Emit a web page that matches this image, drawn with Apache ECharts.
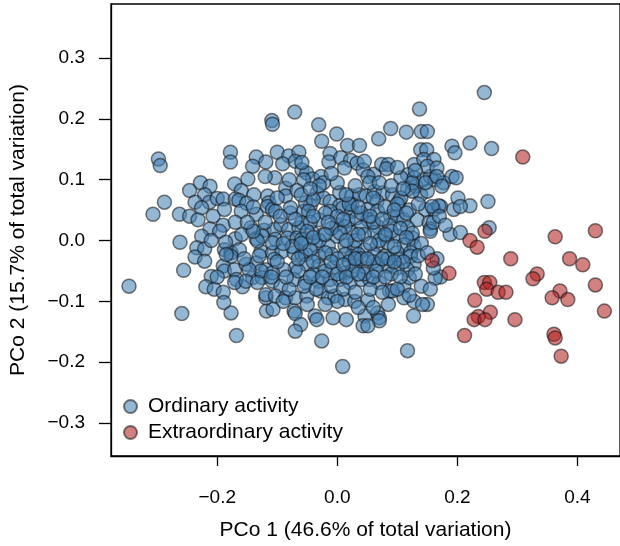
<!DOCTYPE html>
<html>
<head>
<meta charset="utf-8">
<script src="https://cdn.jsdelivr.net/npm/echarts@6/dist/echarts.min.js"></script>
<style>
html,body{margin:0;padding:0;background:#fff;}
#chart{width:620px;height:546px;}
</style>
</head>
<body>
<div id="chart"></div>
<script>
const seriesNames = ["Ordinary activity", "Extraordinary activity"];
const xTicks = [-0.2, 0.0, 0.2, 0.4];
const yTicks = [-0.3, -0.2, -0.1, 0.0, 0.1, 0.2, 0.3];
const xTitle = "PCo 1 (46.6% of total variation)";
const yTitle = "PCo 2 (15.7% of total variation)";

const ordinaryPoints = [
[-0.298,0.134],[-0.295,0.123],[-0.178,0.145],[-0.178,0.129],[-0.135,0.137],[-0.141,0.122],[-0.119,0.129],[-0.100,0.145],[-0.081,0.139],[-0.064,0.145],
[-0.091,0.126],[-0.070,0.130],[-0.104,0.103],[-0.059,0.116],[-0.149,0.101],[-0.171,0.093],[-0.228,0.095],[-0.212,0.089],[-0.246,0.082],[-0.160,0.082],
[-0.139,0.075],[-0.288,0.063],[-0.221,0.075],[-0.237,0.063],[-0.213,0.063],[-0.200,0.069],[-0.190,0.068],[-0.170,0.068],[-0.164,0.066],[-0.151,0.061],
[-0.116,0.073],[-0.114,0.062],[-0.086,0.086],[-0.086,0.073],[-0.067,0.082],[-0.307,0.043],[-0.263,0.043],[-0.246,0.040],[-0.232,0.034],[-0.207,0.040],
[-0.188,0.051],[-0.160,0.048],[-0.135,0.043],[-0.116,0.056],[-0.108,0.051],[-0.103,0.048],[-0.078,0.045],[-0.056,0.048],[-0.226,0.054],[-0.190,0.025],
[-0.212,0.019],[-0.196,0.015],[-0.144,0.021],[-0.122,0.017],[-0.105,0.018],[-0.094,0.026],[-0.081,0.018],[-0.064,0.021],[-0.262,-0.003],[-0.226,0.007],
[-0.234,-0.012],[-0.221,-0.014],[-0.170,0.003],[-0.159,0.010],[-0.135,0.003],[-0.125,0.007],[-0.103,0.002],[-0.083,0.004],[-0.067,0.004],[-0.053,0.002],
[-0.188,-0.015],[-0.177,-0.020],[-0.163,-0.015],[-0.127,-0.018],[-0.108,-0.020],[-0.092,-0.018],[-0.072,-0.020],[-0.059,-0.023],[-0.109,0.197],[-0.108,0.191],
[-0.237,-0.027],[-0.221,-0.034],[-0.190,-0.042],[-0.188,-0.050],[-0.171,-0.048],[-0.152,-0.039],[-0.135,-0.037],[-0.119,-0.048],[-0.105,-0.031],[-0.256,-0.049],
[-0.210,-0.059],[-0.168,-0.064],[-0.158,-0.076],[-0.141,-0.061],[-0.125,-0.061],[-0.108,-0.067],[-0.347,-0.075],[-0.219,-0.076],[-0.205,-0.080],[-0.190,-0.085],
[-0.189,-0.102],[-0.259,-0.120],[-0.177,-0.119],[-0.118,-0.116],[-0.107,-0.113],[-0.119,-0.094],[-0.168,-0.156],[-0.186,-0.003],[-0.177,-0.026],[-0.133,-0.001],[-0.108,-0.004],
[-0.185,-0.023],[-0.070,-0.045],[-0.089,-0.048],[-0.108,-0.053],[-0.127,-0.050],[-0.147,-0.048],[-0.171,-0.069],[-0.152,-0.067],[-0.133,-0.069],[-0.094,-0.075],
[-0.072,-0.064],[-0.119,-0.089],[-0.103,-0.091],[-0.086,-0.094],[-0.070,-0.094],[-0.072,-0.116],[-0.070,-0.120],[-0.061,-0.138],[-0.070,-0.149],
[-0.071,0.211],[-0.031,0.190],[-0.001,0.175],[-0.026,0.163],[0.017,0.156],[0.037,0.156],[0.069,0.167],[0.089,0.184],[0.115,0.178],[0.137,0.216],
[0.140,0.179],[-0.012,0.143],[-0.014,0.129],[0.006,0.136],[0.022,0.132],[0.033,0.127],[0.012,0.119],[0.043,0.116],[0.061,0.109],[0.074,0.125],
[0.085,0.125],[0.082,0.118],[0.051,0.105],[-0.051,0.111],[-0.041,0.101],[-0.027,0.105],[-0.023,0.095],[-0.056,0.100],[-0.034,0.078],[-0.023,0.070],
[-0.012,0.064],[0.004,0.079],[0.024,0.073],[0.037,0.075],[0.048,0.073],[0.062,0.081],[0.076,0.078],[0.092,0.075],[0.103,0.064],[0.117,0.084],
[0.131,0.089],[0.139,0.075],[0.150,0.081],[0.128,0.125],[0.139,0.149],[0.149,0.149],[0.144,0.133],[0.161,0.133],[0.117,0.108],[0.128,0.103],
[0.106,0.103],[0.143,0.100],[0.155,0.105],[0.163,0.100],[-0.045,0.057],[0.004,0.057],[0.024,0.059],[-0.078,0.054],
[0.150,0.122],[0.166,0.119],[0.191,0.155],[0.196,0.144],[-0.059,0.128],[0.054,0.095],[0.070,0.095],[0.066,0.064],[0.125,0.095],[0.147,0.095],
[0.177,0.095],[0.191,0.105],[0.106,0.070],[0.125,0.081],[0.147,0.051],[0.161,0.051],[0.172,0.056],[0.194,0.051],[-0.053,0.062],[-0.040,0.067],
[0.010,0.054],[0.024,0.048],[-0.012,0.048],[-0.048,0.048],[-0.031,0.034],[-0.059,0.029],[-0.001,0.026],[0.018,0.032],[0.032,0.037],[0.051,0.051],
[0.051,0.034],[0.067,0.048],[0.089,0.040],[0.100,0.040],[0.111,0.034],[0.133,0.034],[0.153,0.029],[0.155,0.019],[0.188,0.010],[0.067,0.023],
[0.087,0.025],[0.117,0.021],[0.125,0.004],[0.100,0.007],[0.079,0.007],[0.062,0.013],[0.040,0.021],[0.024,0.013],[0.013,0.023],[-0.001,0.007],
[-0.023,0.010],[-0.042,0.013],[-0.059,0.002],[-0.034,-0.009],[-0.015,-0.009],[0.013,-0.009],[0.029,-0.012],[0.046,-0.015],[0.067,-0.007],[0.084,-0.004],
[0.111,-0.007],[0.128,-0.009],[-0.053,-0.023],[0.024,-0.026],[0.062,-0.023],[0.100,-0.020],[0.122,-0.020],
[0.245,0.243],[0.221,0.160],[0.257,0.151],[0.150,0.179],[0.166,0.105],[0.174,0.089],[0.198,0.103],[0.201,0.070],[0.251,0.064],[0.221,0.057],
[0.205,0.056],[0.169,0.057],[0.158,0.056],[0.155,0.015],[0.205,0.013],[0.253,0.021],[0.166,-0.030],[0.172,-0.060],[0.163,-0.062],[0.150,-0.105],
[-0.031,-0.026],[-0.009,-0.023],[0.013,-0.023],[0.035,-0.023],[0.079,-0.026],[0.103,-0.031],[0.122,-0.026],[0.128,-0.039],[0.117,-0.048],[0.100,-0.045],
[0.084,-0.042],[0.067,-0.039],[0.048,-0.045],[0.029,-0.042],[0.013,-0.053],[-0.007,-0.045],[-0.031,-0.042],[-0.051,-0.039],[-0.053,-0.069],[-0.031,-0.067],
[-0.012,-0.064],[0.004,-0.064],[0.021,-0.069],[0.040,-0.064],[0.054,-0.064],[0.070,-0.069],[0.087,-0.083],[0.092,-0.083],[0.111,-0.075],[0.120,-0.061],
[-0.051,-0.091],[-0.028,-0.083],[-0.015,-0.094],[-0.004,-0.091],[0.013,-0.097],[0.029,-0.100],[0.051,-0.098],[0.111,-0.094],[0.128,-0.100],[0.142,-0.105],
[-0.037,-0.124],[-0.034,-0.130],[-0.007,-0.127],[0.015,-0.130],[0.046,-0.124],[0.067,-0.119],[0.070,-0.127],[0.070,-0.132],[0.043,-0.140],[0.051,-0.140],
[-0.026,-0.165],[0.127,-0.124],[0.117,-0.181],[0.009,-0.207],
[-0.045,0.030],[-0.020,0.045],[0.000,0.040],[0.020,0.060],[0.040,0.045],[0.060,0.030],[0.080,0.055],[0.100,0.060],[0.120,0.050],[0.135,0.060],
[-0.070,0.035],[-0.050,0.015],[-0.030,0.000],[-0.010,0.020],[0.005,0.012],[0.030,0.000],[0.045,0.010],[0.070,0.000],[0.090,0.015],[0.105,0.020],[0.125,0.012],[0.140,-0.005],
[-0.075,-0.010],[-0.045,-0.015],[-0.020,-0.020],[0.000,-0.030],[0.020,-0.035],[0.040,-0.030],[0.060,-0.035],[0.085,-0.030],[0.110,-0.035],[0.135,-0.025],
[-0.065,-0.050],[-0.040,-0.055],[-0.020,-0.050],[0.000,-0.055],[0.025,-0.050],[0.045,-0.055],[0.065,-0.050],[0.090,-0.055],[0.105,-0.060],[0.130,-0.055],
[-0.080,-0.080],[-0.055,-0.075],[-0.035,-0.080],[-0.010,-0.075],[0.010,-0.080],[0.030,-0.085],[0.055,-0.080],[0.075,-0.085],[0.100,-0.080],
[-0.100,-0.035],[-0.090,-0.005],[-0.120,0.030],[-0.140,0.015],[-0.155,-0.030],[-0.130,-0.025],[-0.110,-0.060],[-0.090,-0.100],[-0.200,-0.060],[-0.210,0.000],
[-0.170,0.030],[-0.140,0.055],[-0.100,0.070],[-0.060,0.075],[-0.030,0.090],[0.000,0.095],[0.030,0.090],[0.060,0.070],[0.090,0.090],[0.110,0.085],
[0.015,0.075],[-0.045,0.085],[-0.080,0.100],[-0.120,0.105],[0.130,0.115],[0.045,0.130],[0.100,0.120],[-0.010,0.110],
[0.000,-0.100],[0.035,-0.110],[-0.020,-0.105],[0.085,-0.105],[0.060,-0.110],[-0.050,-0.105],
[0.160,0.030],[0.170,0.040],[0.180,0.025],[0.150,-0.020],[0.160,-0.045],[0.140,-0.075],[0.155,-0.080],[0.120,-0.090],
[-0.040,0.040],[-0.015,0.030],[0.010,0.035],[0.035,0.055],[0.055,0.040],[0.075,0.035],[0.095,0.050],[0.115,0.045],
[-0.060,-0.005],[-0.040,0.005],[-0.020,0.010],[0.015,0.000],[0.035,0.010],[0.055,-0.005],[0.080,0.010],[0.095,-0.010],[0.115,0.005],
[-0.065,-0.030],[-0.040,-0.035],[-0.010,-0.035],[0.010,-0.040],[0.030,-0.030],[0.050,-0.030],[0.075,-0.030],[0.095,-0.035],
[-0.045,-0.060],[-0.025,-0.060],[0.015,-0.060],[0.035,-0.055],[0.060,-0.060],[0.080,-0.060],[-0.150,0.030],[-0.095,0.040],[-0.085,-0.060]
];

const extraordinaryPoints = [
[0.309,0.137],[0.246,0.015],[0.430,0.016],[0.363,0.006],[0.221,0.000],[0.233,-0.011],[0.289,-0.030],[0.387,-0.030],[0.409,-0.040],[0.158,-0.033],
[0.186,-0.054],[0.333,-0.055],[0.326,-0.063],[0.430,-0.073],[0.245,-0.069],[0.254,-0.069],[0.249,-0.080],[0.268,-0.085],[0.281,-0.085],[0.371,-0.083],
[0.358,-0.094],[0.384,-0.097],[0.229,-0.098],[0.445,-0.116],[0.255,-0.118],[0.235,-0.125],[0.228,-0.130],[0.246,-0.130],[0.296,-0.130],[0.212,-0.156],
[0.361,-0.154],[0.363,-0.160],[0.373,-0.190]
];

const FONT = '"Liberation Sans", Arial, Helvetica, sans-serif';
const fmt = v => (v < 0 ? '\u2212' : '') + Math.abs(v).toFixed(1);

const chart = echarts.init(document.getElementById('chart'), null, {renderer: 'canvas'});
chart.setOption({
  animation: false,
  backgroundColor: '#fff',
  grid: {
    left: 110, right: -5, top: 4, bottom: 89,
    show: true, borderColor: '#000', borderWidth: 1.3, backgroundColor: 'transparent'
  },
  legend: {
    left: 118, top: 391, orient: 'vertical',
    itemWidth: 13, itemHeight: 13, itemGap: 5,
    icon: 'circle',
    textStyle: {fontFamily: FONT, fontSize: 21, color: '#000', padding: [0,0,0,6]},
    data: seriesNames
  },
  xAxis: {
    type: 'value', min: -0.377, max: 0.471,
    splitLine: {show: false},
    axisLine: {show: true, onZero: false, lineStyle: {color: '#000', width: 1.3}},
    axisTick: {show: true, length: 10, customValues: xTicks, lineStyle: {color: '#000', width: 1.3}},
    axisLabel: {customValues: xTicks, formatter: fmt, margin: 32, fontFamily: FONT, fontSize: 19, color: '#000'},
    name: xTitle, nameLocation: 'middle', nameGap: 64,
    nameTextStyle: {fontFamily: FONT, fontSize: 21, color: '#000'}
  },
  yAxis: {
    type: 'value', min: -0.354, max: 0.3885,
    splitLine: {show: false},
    axisLine: {show: true, onZero: false, lineStyle: {color: '#000', width: 1.3}},
    axisTick: {show: true, length: 12, customValues: yTicks, lineStyle: {color: '#000', width: 1.3}},
    axisLabel: {customValues: yTicks, formatter: fmt, margin: 26, fontFamily: FONT, fontSize: 19, color: '#000'},
    name: yTitle, nameLocation: 'middle', nameGap: 82, nameRotate: 90,
    nameTextStyle: {fontFamily: FONT, fontSize: 21, color: '#000'}
  },
  series: [
    {
      name: seriesNames[0], type: 'scatter', data: ordinaryPoints,
      symbol: 'circle', symbolSize: 14,
      itemStyle: {color: 'rgba(70,130,180,0.72)', borderColor: 'rgba(20,20,20,0.7)', borderWidth: 1.5}
    },
    {
      name: seriesNames[1], type: 'scatter', data: extraordinaryPoints,
      symbol: 'circle', symbolSize: 14,
      itemStyle: {color: 'rgba(178,34,34,0.72)', borderColor: 'rgba(20,20,20,0.7)', borderWidth: 1.5}
    }
  ]
});
</script>
</body>
</html>
